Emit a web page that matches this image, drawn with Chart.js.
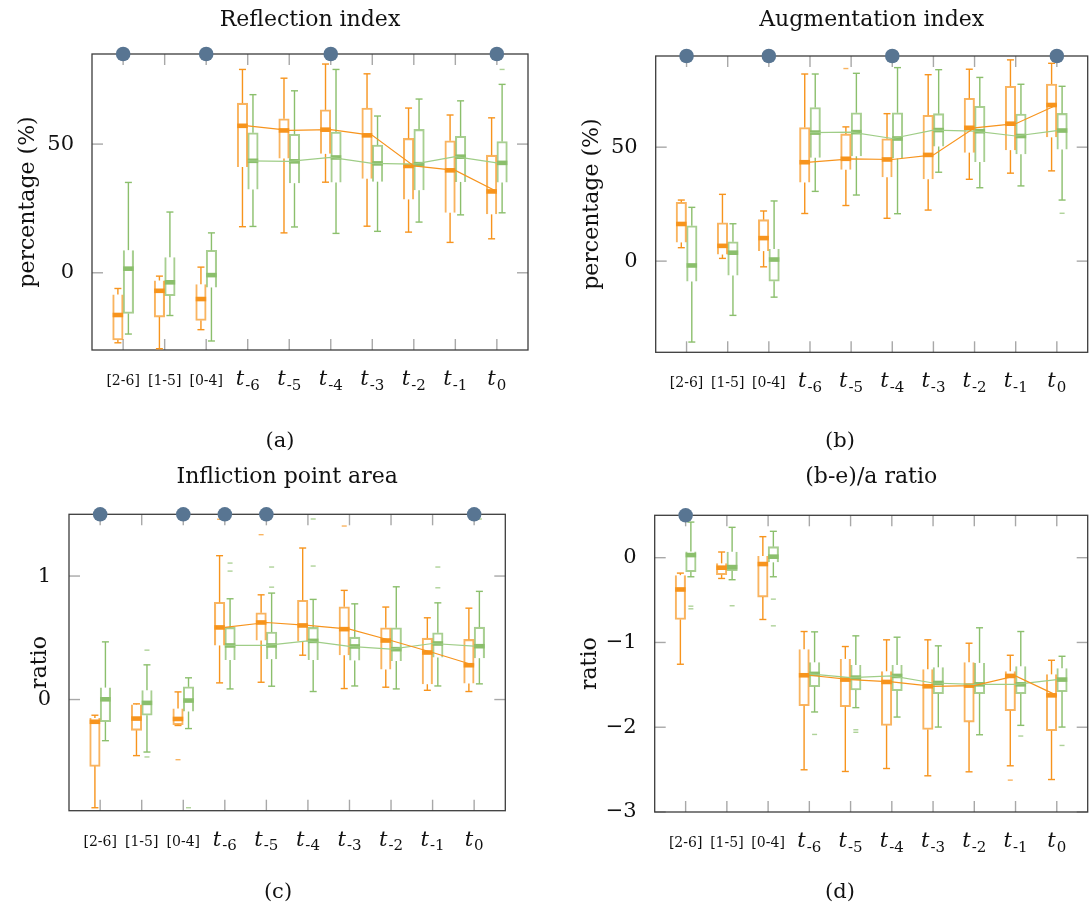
<!DOCTYPE html>
<html>
<head>
<meta charset="utf-8">
<script src="https://cdn.jsdelivr.net/npm/chart.js@4.4.0/dist/chart.umd.min.js"></script>
<style>
  body { margin: 0; background: #fff; overflow: hidden; width: 1089px; height: 911px; position: relative; }
  canvas { position: absolute; }
  .caption { position: absolute; font: 21px "DejaVu Serif", serif; line-height: 24px; color: #111; transform: translateX(-50%); }
</style>
</head>
<body>
<canvas id="chartA" width="545" height="455" style="left:0;top:0"></canvas>
<canvas id="chartB" width="550" height="455" style="left:545px;top:0"></canvas>
<canvas id="chartC" width="545" height="456" style="left:0;top:455px"></canvas>
<canvas id="chartD" width="550" height="456" style="left:545px;top:455px"></canvas>
<div class="caption" style="left:280px;top:428px">(a)</div>
<div class="caption" style="left:840px;top:428px">(b)</div>
<div class="caption" style="left:278px;top:879px">(c)</div>
<div class="caption" style="left:840px;top:879px">(d)</div>
<script>
const categories = ['[2-6]', '[1-5]', '[0-4]', 't-6', 't-5', 't-4', 't-3', 't-2', 't-1', 't0'];
const linkedFrom = 3; // medians are joined from t-6 on

// each entry: [whisker low, q1, median, q3, whisker high]
// outliers: [category, series (0 orange, 1 green), value]

// Reflection index
const reflOrange = [
  [-27.2, -26.1, -16.4, -8.4, -6.1], [-29.5, -17.2, -7.0, -3.0, -1.3], [-22.1, -18.5, -10.2, -4.5, 2.2],
  [17.9, 41.1, 57.1, 65.9, 79.0], [15.5, 44.4, 55.3, 59.8, 75.6], [35.2, 46.2, 55.6, 63.3, 81.1],
  [18.1, 36.5, 53.4, 64.0, 77.3], [15.8, 28.5, 41.5, 52.2, 64.0], [11.8, 23.3, 39.8, 51.3, 61.3],
  [13.2, 22.7, 31.6, 45.7, 60.2]
];
const reflGreen = [
  [-23.8, -15.8, 1.6, 8.8, 35.1], [-16.6, -8.9, -3.7, 6.0, 23.6], [-26.5, -5.7, -0.9, 8.7, 15.5],
  [18.0, 32.4, 43.5, 54.4, 69.2], [17.8, 34.8, 43.3, 53.8, 70.7], [15.3, 35.1, 44.8, 54.7, 79.0],
  [16.1, 35.4, 42.5, 49.6, 60.9], [19.7, 32.1, 42.2, 55.7, 67.5], [22.5, 35.3, 45.1, 53.0, 66.8],
  [23.3, 35.1, 42.7, 51.0, 73.2]
];
const reflOutliers = [[9, 1, 79.0]];
const reflMarked = [0, 2, 5, 9];
const reflTicks = [0, 50];

// Augmentation index
const augOrange = [
  [5.9, 8.2, 16.3, 25.8, 26.8], [1.2, 2.9, 6.7, 16.8, 29.3], [-2.5, 4.4, 10.1, 18.2, 22.0],
  [20.9, 34.5, 43.4, 58.6, 82.1], [24.4, 40.1, 44.9, 55.8, 58.9], [18.8, 36.8, 44.6, 53.7, 64.7],
  [22.4, 35.9, 46.6, 64.0, 81.8], [35.9, 47.6, 58.5, 71.4, 84.2], [38.6, 48.7, 60.3, 76.7, 88.3],
  [39.6, 54.3, 68.5, 77.7, 86.8]
];
const augGreen = [
  [-35.5, -8.9, -1.9, 15.5, 23.6], [-23.8, -6.3, 3.7, 8.5, 16.4], [-15.8, -8.8, 0.7, 5.3, 26.4],
  [30.6, 45.4, 56.4, 67.4, 82.1], [29.0, 46.0, 56.6, 65.1, 82.4], [20.8, 45.0, 53.8, 65.1, 84.9],
  [39.0, 50.3, 57.5, 64.7, 84.0], [32.2, 43.5, 57.0, 67.9, 80.6], [33.0, 46.9, 54.9, 64.5, 77.6],
  [26.8, 49.0, 57.3, 64.8, 76.7]
];
const augOutliers = [[4, 0, 84.5], [9, 1, 21.0]];
const augMarked = [0, 2, 5, 9];
const augTicks = [0, 50];

// Infliction point area
const ipaOrange = [
  [-0.876, -0.541, -0.18, -0.149, -0.127], [-0.454, -0.249, -0.154, -0.04, -0.035], [-0.21, -0.203, -0.157, -0.073, 0.062],
  [0.135, 0.438, 0.584, 0.787, 1.165], [0.14, 0.478, 0.624, 0.702, 0.848], [0.359, 0.47, 0.6, 0.803, 1.227],
  [0.089, 0.359, 0.57, 0.751, 0.884], [0.1, 0.243, 0.478, 0.581, 0.749], [0.075, 0.124, 0.381, 0.497, 0.662],
  [0.065, 0.13, 0.278, 0.487, 0.74]
];
const ipaGreen = [
  [-0.333, -0.18, 0.002, 0.097, 0.467], [-0.425, -0.127, -0.027, 0.075, 0.281], [-0.235, -0.097, -0.008, 0.103, 0.176],
  [0.086, 0.321, 0.438, 0.584, 0.816], [0.108, 0.327, 0.438, 0.546, 0.862], [0.065, 0.321, 0.475, 0.584, 0.811],
  [0.11, 0.316, 0.43, 0.505, 0.775], [0.086, 0.313, 0.408, 0.581, 0.913], [0.11, 0.34, 0.454, 0.54, 0.783],
  [0.127, 0.335, 0.432, 0.586, 0.876]
];
const ipaOutliers = [
  [2, 0, -0.487], [3, 0, 1.46], [4, 0, 1.335], [6, 0, 1.405],
  [1, 1, 0.40], [1, 1, -0.465], [2, 1, -0.876], [3, 1, 1.105], [3, 1, 1.04], [4, 1, 1.073], [4, 1, 0.91],
  [5, 1, 1.462], [5, 1, 1.081], [8, 1, 1.073], [8, 1, 0.905], [9, 1, 1.462]
];
const ipaMarked = [0, 2, 3, 4, 9];
const ipaTicks = [0, 1];

// (b-e)/a ratio
const beaOrange = [
  [-1.257, -0.729, -0.375, -0.206, -0.182], [-0.245, -0.201, -0.118, -0.067, 0.067], [-0.729, -0.465, -0.075, 0.019, 0.248],
  [-2.502, -1.746, -1.387, -1.08, -0.871], [-2.522, -1.758, -1.438, -1.194, -1.048], [-2.487, -1.978, -1.466, -1.34, -0.969],
  [-2.573, -2.026, -1.517, -1.316, -0.969], [-2.526, -1.939, -1.509, -1.234, -1.009], [-2.455, -1.805, -1.395, -1.34, -1.151],
  [-2.617, -2.041, -1.624, -1.376, -1.21]
];
const beaGreen = [
  [-0.225, -0.165, 0.031, 0.074, 0.42], [-0.26, -0.154, -0.111, 0.071, 0.358], [-0.225, -0.055, 0.012, 0.13, 0.311],
  [-1.82, -1.521, -1.371, -1.234, -0.875], [-1.769, -1.56, -1.415, -1.265, -0.922], [-1.88, -1.569, -1.395, -1.265, -0.938],
  [-1.998, -1.604, -1.478, -1.293, -1.04], [-2.089, -1.604, -1.494, -1.241, -0.827], [-1.978, -1.604, -1.494, -1.281, -0.871],
  [-1.998, -1.58, -1.438, -1.305, -1.163]
];
const beaOutliers = [
  [8, 0, -2.624],
  [0, 1, -0.572], [0, 1, -0.603], [1, 1, -0.567], [2, 1, -0.489], [2, 1, -0.804], [3, 1, -2.085],
  [4, 1, -2.03], [4, 1, -2.06], [8, 1, -2.104], [9, 1, -2.215]
];
const beaMarked = [0];
const beaTicks = [-3, -2, -1, 0];

const FONT = '"DejaVu Serif", serif';
const ORANGE = '#f7941d';
const ORANGE_BOX = 'rgba(247,148,29,0.7)';
const GREEN = '#8bbf6c';
const GREEN_BOX = 'rgba(139,191,108,0.75)';
const GREEN_LINE = '#9fcd87';
const DOT = '#587592';

const panels = [
  { id: 'chartA', title: 'Reflection index', yTitle: 'percentage (%)', orange: reflOrange, green: reflGreen,
    outliers: reflOutliers, marked: reflMarked, ticks: reflTicks, yMin: -30, yMax: 85,
    yWidth: 92, padRight: 17, padBottom: 105, titlePad: { top: 6.8, bottom: 20.8 }, yTitlePad: 15 },
  { id: 'chartB', title: 'Augmentation index', yTitle: 'percentage (%)', orange: augOrange, green: augGreen,
    outliers: augOutliers, marked: augMarked, ticks: augTicks, yMin: -40, yMax: 90,
    yWidth: 110.7, padRight: 3.7, padBottom: 102.7, titlePad: { top: 6.8, bottom: 22.8 }, yTitlePad: 34 },
  { id: 'chartC', title: 'Infliction point area', yTitle: 'ratio', orange: ipaOrange, green: ipaGreen,
    outliers: ipaOutliers, marked: ipaMarked, ticks: ipaTicks, yMin: -0.9, yMax: 1.5,
    yWidth: 69, padRight: 39.7, padBottom: 100.3, titlePad: { top: 8.8, bottom: 24.1 }, yTitlePad: 27 },
  { id: 'chartD', title: '(b-e)/a ratio', yTitle: 'ratio', orange: beaOrange, green: beaGreen,
    outliers: beaOutliers, marked: beaMarked, ticks: beaTicks, yMin: -3, yMax: 0.5,
    yWidth: 109.7, padRight: 4.7, padBottom: 99, titlePad: { top: 8.8, bottom: 25.1 }, yTitlePad: 32 }
];

// whiskers, medians, outliers, frame and inner ticks, x labels
function boxPlotPlugin(p) {
  return {
    id: 'boxPlot',
    beforeDatasetsDraw(chart) {
      const { ctx, chartArea: a, scales: { x, y } } = chart;
      const seg = (x1, y1, x2, y2) => { ctx.beginPath(); ctx.moveTo(x1, y1); ctx.lineTo(x2, y2); ctx.stroke(); };
      ctx.save();

      // ticks pointing inwards
      ctx.strokeStyle = '#a8a8a8';
      ctx.lineWidth = 1.4;
      categories.forEach((c, i) => {
        const px = x.getPixelForValue(i);
        seg(px, a.bottom, px, a.bottom - 11);
        seg(px, a.top, px, a.top + 11);
      });
      y.ticks.forEach(t => {
        const py = y.getPixelForValue(t.value);
        seg(a.left, py, a.left + 11, py);
        seg(a.right, py, a.right - 11, py);
      });
      ctx.strokeStyle = '#3c3c3c';
      ctx.lineWidth = 1.3;
      ctx.strokeRect(a.left, a.top, a.right - a.left, a.bottom - a.top);

      [[p.orange, ORANGE], [p.green, GREEN]].forEach(([stats, color], k) => {
        const bars = chart.getDatasetMeta(k).data;
        ctx.strokeStyle = color;
        ctx.fillStyle = color;
        ctx.lineWidth = 1.4;
        stats.forEach((s, i) => {
          const cx = bars[i].x, w = bars[i].width;
          const [lo, q1, med, q3, hi] = s.map(v => y.getPixelForValue(v));
          seg(cx, q3, cx, hi);
          seg(cx, q1, cx, lo);
          seg(cx - 3.5, hi, cx + 3.5, hi);
          seg(cx - 3.5, lo, cx + 3.5, lo);
          ctx.fillRect(cx - w / 2, med - 2.3, w, 4.6);
        });
      });

      ctx.globalAlpha = 0.7;
      p.outliers.forEach(([i, k, v]) => {
        const bar = chart.getDatasetMeta(k).data[i];
        const py = y.getPixelForValue(v);
        ctx.strokeStyle = k === 0 ? ORANGE : GREEN;
        seg(bar.x - 2.5, py, bar.x + 2.5, py);
      });
      ctx.restore();
    },
    afterDraw(chart) {
      const { ctx, chartArea: a, scales: { x } } = chart;
      ctx.save();
      ctx.fillStyle = '#111';
      ctx.textBaseline = 'alphabetic';
      const base = a.bottom + 35;
      categories.forEach((lab, i) => {
        const px = x.getPixelForValue(i);
        if (lab.startsWith('t')) {
          const sub = lab.slice(1);
          ctx.font = 'italic 21px ' + FONT;
          const tw = ctx.measureText('t').width;
          ctx.font = '15px ' + FONT;
          const sw = ctx.measureText(sub).width;
          const x0 = px - (tw + sw + 1) / 2;
          ctx.textAlign = 'left';
          ctx.font = 'italic 21px ' + FONT;
          ctx.fillText('t', x0, base);
          ctx.font = '15px ' + FONT;
          ctx.fillText(sub, x0 + tw + 1, base + 4.5);
        } else {
          ctx.font = '14px ' + FONT;
          ctx.textAlign = 'center';
          ctx.fillText(lab, px, base);
        }
      });
      ctx.restore();
    }
  };
}

function medianLine(stats) {
  return stats.map((s, i) => ({ x: i, y: i >= linkedFrom ? s[2] : null }));
}

function makeChart(p) {
  new Chart(document.getElementById(p.id), {
    type: 'bar',
    data: {
      datasets: [
        { type: 'bar', data: p.orange.map((s, i) => ({ x: i, y: [s[1], s[3]] })),
          backgroundColor: 'rgba(255,255,255,0)', borderColor: ORANGE_BOX, borderWidth: 1.4, barThickness: 10.5, order: 3 },
        { type: 'bar', data: p.green.map((s, i) => ({ x: i, y: [s[1], s[3]] })),
          backgroundColor: 'rgba(255,255,255,0)', borderColor: GREEN_BOX, borderWidth: 1.4, barThickness: 10.5, order: 3 },
        { type: 'line', data: medianLine(p.orange), borderColor: ORANGE, borderWidth: 1.2, pointRadius: 0, order: 2 },
        { type: 'line', data: medianLine(p.green), borderColor: GREEN_LINE, borderWidth: 1.2, pointRadius: 0, order: 2 },
        { type: 'scatter', data: p.marked.map(i => ({ x: i, y: p.yMax })),
          pointRadius: 7.3, backgroundColor: DOT, borderWidth: 0, clip: false, order: 1 }
      ]
    },
    options: {
      responsive: false,
      animation: false,
      layout: { padding: { left: 0, top: 0, right: p.padRight, bottom: p.padBottom } },
      plugins: {
        legend: { display: false },
        tooltip: { enabled: false },
        title: {
          display: true, text: p.title, fullSize: false, color: '#111',
          font: { family: FONT, size: 22, weight: 'normal' }, padding: p.titlePad
        }
      },
      scales: {
        x: {
          type: 'linear', min: -0.75, max: 9.75, offset: false,
          ticks: { display: false }, grid: { display: false }, border: { display: false },
          afterFit: s => { s.height = 0; }
        },
        y: {
          type: 'linear', min: p.yMin, max: p.yMax,
          afterBuildTicks: s => { s.ticks = p.ticks.map(v => ({ value: v })); },
          afterFit: s => { s.width = p.yWidth; },
          ticks: { padding: 10, color: '#111', font: { family: FONT, size: 21 },
                   callback: v => String(v).replace('-', '\u2212') },
          grid: { display: false }, border: { display: false },
          title: { display: true, text: p.yTitle, color: '#111', font: { family: FONT, size: 22 },
                   padding: { top: p.yTitlePad, bottom: 0 } }
        }
      }
    },
    plugins: [boxPlotPlugin(p)]
  });
}

panels.forEach(makeChart);
</script>
</body>
</html>
